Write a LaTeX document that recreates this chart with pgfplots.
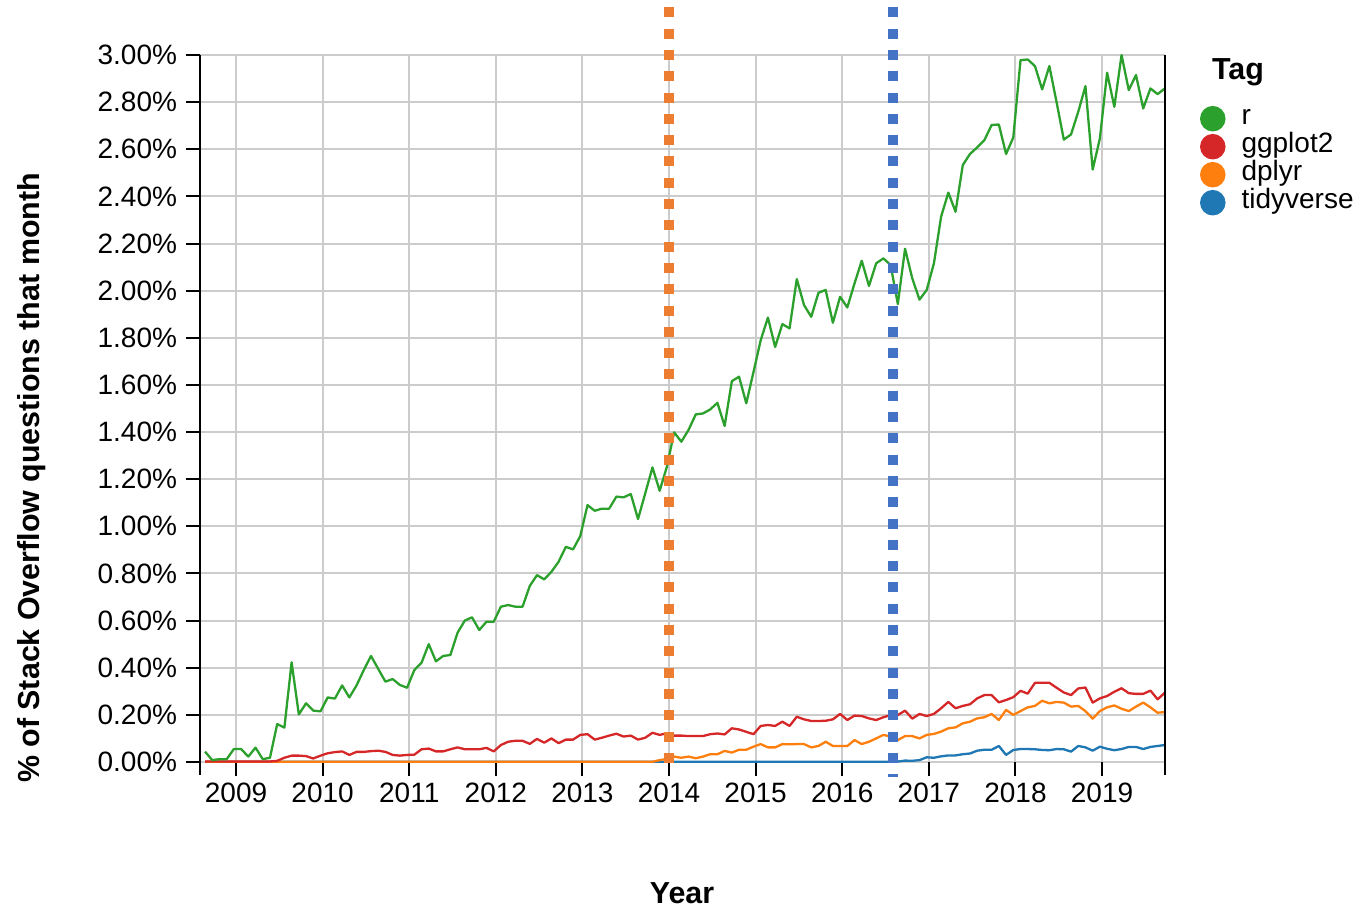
\documentclass[border=0pt]{standalone}
\usepackage{fontspec}
\setmainfont{Liberation Sans}
\usepackage{pgfplots}
\usepackage{pgfplotstable}
\pgfplotsset{compat=1.18}
\definecolor{cR}{HTML}{2CA02C}
\definecolor{cG}{HTML}{D62728}
\definecolor{cD}{HTML}{FF7F0E}
\definecolor{cT}{HTML}{1F77B4}
\definecolor{dotO}{HTML}{ED7D31}
\definecolor{dotB}{HTML}{4472C4}
\definecolor{gridgray}{HTML}{CCCCCC}
\newcommand\tickfont{\fontsize{14}{16}\selectfont}
\newcommand\titlefont{\fontsize{15.2}{17}\selectfont\bfseries}
% monthly values (% of questions), Sep 2008 ... Oct 2019
\pgfplotstableread{
r g d t
0.044 0.002 0.001 0.001
0.008 0.002 0.001 0.001
0.012 0.002 0.001 0.001
0.012 0.002 0.001 0.001
0.055 0.002 0.001 0.001
0.055 0.002 0.001 0.001
0.023 0.002 0.001 0.001
0.061 0.002 0.001 0.001
0.012 0.002 0.001 0.001
0.018 0.002 0.001 0.001
0.161 0.005 0.001 0.001
0.146 0.018 0.001 0.001
0.423 0.027 0.001 0.001
0.202 0.027 0.001 0.001
0.249 0.025 0.001 0.001
0.218 0.015 0.001 0.001
0.215 0.027 0.001 0.001
0.274 0.037 0.001 0.001
0.269 0.042 0.001 0.001
0.325 0.045 0.001 0.001
0.274 0.030 0.001 0.001
0.325 0.043 0.001 0.001
0.390 0.043 0.001 0.001
0.450 0.046 0.001 0.001
0.395 0.048 0.001 0.001
0.341 0.043 0.001 0.001
0.352 0.030 0.001 0.001
0.327 0.027 0.001 0.001
0.315 0.030 0.001 0.001
0.390 0.031 0.001 0.001
0.421 0.054 0.001 0.001
0.500 0.057 0.001 0.001
0.427 0.045 0.001 0.001
0.450 0.045 0.001 0.001
0.454 0.054 0.001 0.001
0.549 0.062 0.001 0.001
0.600 0.054 0.001 0.001
0.614 0.054 0.001 0.001
0.560 0.054 0.001 0.001
0.595 0.060 0.001 0.001
0.595 0.045 0.001 0.001
0.659 0.072 0.001 0.001
0.666 0.086 0.001 0.001
0.659 0.090 0.001 0.001
0.659 0.090 0.001 0.001
0.747 0.077 0.001 0.001
0.793 0.098 0.001 0.001
0.775 0.082 0.001 0.001
0.807 0.100 0.001 0.001
0.850 0.080 0.001 0.001
0.913 0.095 0.001 0.001
0.902 0.095 0.001 0.001
0.959 0.115 0.001 0.001
1.090 0.118 0.001 0.001
1.066 0.095 0.001 0.001
1.075 0.103 0.001 0.001
1.075 0.112 0.001 0.001
1.126 0.120 0.001 0.001
1.123 0.108 0.001 0.001
1.137 0.112 0.001 0.001
1.031 0.095 0.001 0.001
1.140 0.103 0.001 0.001
1.250 0.124 0.001 0.001
1.151 0.115 0.008 0.001
1.253 0.122 0.013 0.001
1.399 0.112 0.023 0.001
1.359 0.112 0.018 0.001
1.409 0.110 0.023 0.001
1.475 0.110 0.016 0.001
1.479 0.110 0.023 0.001
1.496 0.118 0.033 0.001
1.524 0.121 0.033 0.001
1.426 0.117 0.047 0.001
1.616 0.143 0.040 0.001
1.635 0.138 0.052 0.001
1.522 0.128 0.052 0.001
1.655 0.118 0.065 0.001
1.790 0.153 0.076 0.001
1.886 0.157 0.062 0.001
1.761 0.153 0.062 0.001
1.858 0.171 0.076 0.001
1.840 0.153 0.075 0.001
2.049 0.192 0.076 0.001
1.939 0.181 0.076 0.001
1.889 0.174 0.062 0.001
1.991 0.174 0.068 0.001
2.003 0.175 0.086 0.001
1.864 0.181 0.068 0.001
1.974 0.204 0.068 0.001
1.929 0.178 0.068 0.001
2.031 0.197 0.093 0.001
2.127 0.195 0.076 0.001
2.020 0.185 0.086 0.001
2.116 0.178 0.100 0.001
2.137 0.190 0.115 0.001
2.109 0.199 0.108 0.001
1.943 0.199 0.093 0.002
2.178 0.218 0.110 0.006
2.052 0.184 0.110 0.005
1.962 0.204 0.100 0.008
2.003 0.195 0.115 0.020
2.116 0.204 0.119 0.018
2.314 0.228 0.129 0.024
2.416 0.255 0.143 0.028
2.335 0.228 0.147 0.028
2.533 0.238 0.164 0.033
2.580 0.245 0.171 0.036
2.608 0.270 0.185 0.048
2.639 0.284 0.190 0.052
2.703 0.284 0.204 0.052
2.705 0.253 0.178 0.068
2.580 0.263 0.221 0.030
2.650 0.275 0.200 0.051
2.978 0.302 0.216 0.055
2.981 0.290 0.232 0.055
2.953 0.336 0.238 0.054
2.854 0.336 0.260 0.051
2.953 0.336 0.249 0.050
2.800 0.315 0.255 0.055
2.641 0.295 0.252 0.054
2.663 0.284 0.235 0.044
2.759 0.312 0.238 0.068
2.868 0.316 0.216 0.062
2.514 0.252 0.184 0.048
2.646 0.270 0.216 0.065
2.925 0.280 0.232 0.056
2.780 0.298 0.240 0.050
3.000 0.313 0.226 0.055
2.851 0.292 0.216 0.064
2.915 0.289 0.235 0.064
2.773 0.289 0.252 0.055
2.858 0.303 0.232 0.064
2.834 0.266 0.209 0.068
2.858 0.294 0.212 0.072
}\datatable
\begin{document}
\begin{tikzpicture}
\path[use as bounding box] (-100pt,-73.5pt) rectangle (579pt,381pt);
\begin{axis}[
  scale only axis, width=482.5pt, height=353.5pt,
  xmin=2008.584, xmax=2019.727, ymin=0, ymax=3,
  xtick={2009,2010,2011,2012,2013,2014,2015,2016,2017,2018,2019},
  xticklabels={2009,2010,2011,2012,2013,2014,2015,2016,2017,2018,2019},
  ytick={0,0.2,0.4,0.6,0.8,1.0,1.2,1.4,1.6,1.8,2.0,2.2,2.4,2.6,2.8,3.0},
  yticklabels={0.00\%,0.20\%,0.40\%,0.60\%,0.80\%,1.00\%,1.20\%,1.40\%,1.60\%,1.80\%,2.00\%,2.20\%,2.40\%,2.60\%,2.80\%,3.00\%},
  grid=major, major grid style={line width=1pt, color=gridgray},
  axis line style={draw=none},
  tick align=outside, major tick length=7pt,
  tick style={black, line width=1pt},
  xtick pos=left, ytick pos=left,
  ticklabel style={font=\tickfont},
  yticklabel style={xshift=-1pt},
  clip=false,
  xlabel={Year}, ylabel={\% of Stack Overflow questions that month},
  xlabel style={font=\titlefont, at={(axis description cs:0.4995,-0.1853)}, anchor=center},
  ylabel style={font=\titlefont, at={(axis description cs:-0.174,0.4017)}, anchor=center},
  reverse legend,
  legend image code/.code={\fill[#1] (5.8pt,0pt) circle (5.8pt);},
  legend style={at={(axis description cs:1.0363,0.9297)}, anchor=north west,
    draw=none, fill=none, inner sep=0pt, outer sep=0pt, font=\tickfont,
    cells={anchor=west}, row sep=0pt,
    nodes={inner sep=0pt, text height=10pt, text depth=4pt},
    /tikz/every odd column/.append style={column sep=8pt}},
]
\addplot[cT, line width=1.15pt, line join=round] table[x expr=2008.642+\coordindex/12, y=t] {\datatable};
\addlegendentry{tidyverse}
\addplot[cD, line width=1.15pt, line join=round] table[x expr=2008.642+\coordindex/12, y=d] {\datatable};
\addlegendentry{dplyr}
\addplot[cG, line width=1.15pt, line join=round] table[x expr=2008.642+\coordindex/12, y=g] {\datatable};
\addlegendentry{ggplot2}
\addplot[cR, line width=1.15pt, line join=round] table[x expr=2008.642+\coordindex/12, y=r] {\datatable};
\addlegendentry{r}
\draw[dotO, line width=5pt, dash pattern=on 5pt off 5.65pt] (axis cs:2014,3.202) -- (axis cs:2014,-0.013);
\draw[dotB, line width=5pt, dash pattern=on 5pt off 5.65pt] (axis cs:2016.587,3.202) -- (axis cs:2016.587,-0.065);
\draw[black, line width=1pt] (rel axis cs:0,1) -- (rel axis cs:0,-0.0184);
\draw[black, line width=1pt] (rel axis cs:1,1) -- (rel axis cs:1,-0.0184);
\node[anchor=base west, inner sep=0pt, font=\titlefont] at (axis description cs:1.0484,0.9651) {Tag};
\end{axis}
\end{tikzpicture}
\end{document}
